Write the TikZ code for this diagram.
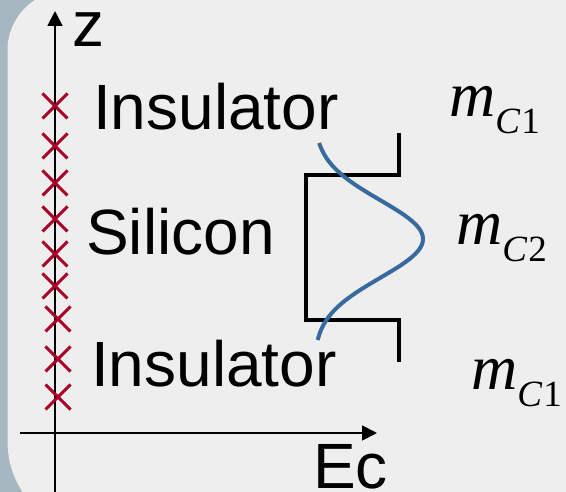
\documentclass[tikz,border=0pt]{standalone}
\usepackage{fontspec}
\setmainfont{Liberation Sans}
\newfontfamily\timesf{Liberation Serif}
\usetikzlibrary{arrows.meta}
\definecolor{frame}{RGB}{166,183,191}
\definecolor{panel}{RGB}{238,238,238}
\definecolor{crossred}{RGB}{168,0,40}
\definecolor{wave}{RGB}{55,107,160}
\tikzset{
  lbl/.style={inner sep=0pt, anchor=base west, font=\fontsize{64}{64}\selectfont},
  mass/.style={inner sep=0pt, anchor=base west},
  axis/.style={line width=1.8pt, -{Triangle[length=15pt,width=15pt]}},
  xmark/.style={crossred, line width=3pt},
  well/.style={line width=4.5pt, line join=miter},
}
\newcommand{\mlabel}[1]{{\timesf\fontsize{64}{64}\selectfont\itshape m}\raisebox{-16.6pt}{\timesf\fontsize{37}{37}\selectfont\textit{C}\kern1pt#1}}
\begin{document}
\begin{tikzpicture}[x=1pt,y=-1pt]
\useasboundingbox (0,0) rectangle (566,492);
\fill[frame] (0,0) rectangle (566,492);
\fill[panel] (600,-10) -- (68,-10) .. controls (35,-10) and (7.5,17) .. (7.5,50)
  -- (7.5,440) .. controls (7.5,465) and (15,482) .. (28,500) -- (600,500) -- cycle;
% axes
\coordinate (zb) at (55,492);
\coordinate (zt) at (55,11);
\coordinate (el) at (20,433);
\coordinate (er) at (377,433);
\draw[axis] (zb) -- (zt);
\draw[axis] (el) -- (er);
\node[lbl] (zlab) at (72,47) {z};
\node[lbl] (eclab) at (313,489) {Ec};
% crosses
\foreach \cx/\cy in {55/106,55/146,55/183,55/219,55/254,55/286,58/319,58/359,58/397}{
  \draw[xmark] (\cx-12.5,\cy-12.5) -- (\cx+12.5,\cy+12.5);
  \draw[xmark] (\cx-12.5,\cy+12.5) -- (\cx+12.5,\cy-12.5);
}
% labels
\node[lbl] (ins1) at (93,129.3) {Insulator};
\node[lbl] (sil) at (86,255) {Silicon};
\node[lbl] (ins2) at (91,386.7) {Insulator};
\node[mass] (m1) at (449,116.7) {\mlabel{1}};
\node[mass] (m2) at (456,245) {\mlabel{2}};
\node[mass] (m3) at (471,390) {\mlabel{1}};
% well
\draw[well] (399,133) -- (399,175) -- (306,175) -- (306,320) -- (399,320) -- (399,362);
% wavefunction
\draw[wave, line width=4pt] plot[domain=143:340, samples=90, smooth] ({314+109*exp(-((\x-239)/55)^2)}, \x);
\end{tikzpicture}
\end{document}
